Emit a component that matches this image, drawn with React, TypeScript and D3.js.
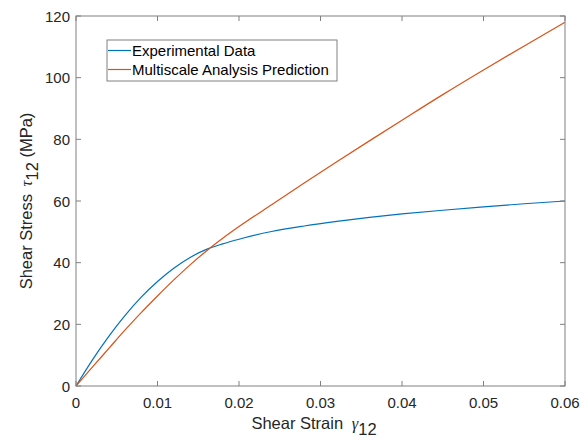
import React, { useEffect, useRef } from 'react';
import * as d3 from 'd3';

// strain values shared by both curves
const strain = [0, 0.002, 0.004, 0.006, 0.008, 0.01, 0.012, 0.014, 0.016, 0.018, 0.02, 0.024, 0.028, 0.032, 0.036, 0.04, 0.045, 0.05, 0.055, 0.06];
const experimental = [0, 8.4, 16, 22.8, 28.8, 33.9, 38.2, 41.7, 44.3, 46.1, 47.6, 50.1, 51.9, 53.4, 54.7, 55.8, 57, 58.1, 59.1, 60];
const prediction = [0, 6.1, 12.1, 18.1, 23.8, 29.2, 34.4, 39.3, 43.8, 47.9, 51.7, 58.8, 65.8, 72.7, 79.5, 86.2, 94.5, 102.5, 110.3, 118];

const xTicks = [0, 0.01, 0.02, 0.03, 0.04, 0.05, 0.06];
const yTicks = [0, 20, 40, 60, 80, 100, 120];
const seriesNames = ['Experimental Data', 'Multiscale Analysis Prediction'];
const seriesColors = ['#0072BD', '#D95319'];

const W = 582;
const H = 444;
const margin = { left: 76, right: 17, top: 16, bottom: 58 };
const FONT = '"Liberation Sans", Arial, Helvetica, sans-serif';
const AXIS = '#808080';
const TEXT = '#262626';

const App: React.FC = () => {
  const svgRef = useRef<SVGSVGElement>(null);

  useEffect(() => {
    if (!svgRef.current) return;
    const svg = d3.select(svgRef.current);
    svg.selectAll('*').remove();

    const x = d3.scaleLinear().domain([0, 0.06]).range([margin.left, W - margin.right]);
    const y = d3.scaleLinear().domain([0, 120]).range([H - margin.bottom, margin.top]);
    const [x0, x1] = x.range();
    const [y0, y1] = y.range();

    svg.append('rect').attr('width', W).attr('height', H).attr('fill', '#fff');

    // curves
    const line = d3.line<[number, number]>()
      .x(d => x(d[0]))
      .y(d => y(d[1]))
      .curve(d3.curveMonotoneX);

    [experimental, prediction].forEach((vals, i) => {
      svg.append('path')
        .datum(strain.map((s, k) => [s, vals[k]] as [number, number]))
        .attr('d', line)
        .attr('fill', 'none')
        .attr('stroke', seriesColors[i])
        .attr('stroke-width', 1.2);
    });

    // box
    svg.append('rect')
      .attr('x', x0).attr('y', y1)
      .attr('width', x1 - x0).attr('height', y0 - y1)
      .attr('fill', 'none')
      .attr('stroke', AXIS)
      .attr('stroke-width', 1);

    const tl = 5;
    // x ticks (bottom and top, inward)
    xTicks.forEach(t => {
      const px = x(t);
      svg.append('line').attr('x1', px).attr('x2', px).attr('y1', y0).attr('y2', y0 - tl).attr('stroke', AXIS);
      svg.append('line').attr('x1', px).attr('x2', px).attr('y1', y1).attr('y2', y1 + tl).attr('stroke', AXIS);
      svg.append('text')
        .attr('x', px).attr('y', y0 + 22)
        .attr('text-anchor', 'middle')
        .attr('fill', TEXT)
        .style('font-family', FONT)
        .style('font-size', '15px')
        .text(d3.format('~g')(t));
    });

    // y ticks (left and right, inward)
    yTicks.forEach(t => {
      const py = y(t);
      svg.append('line').attr('x1', x0).attr('x2', x0 + tl).attr('y1', py).attr('y2', py).attr('stroke', AXIS);
      svg.append('line').attr('x1', x1).attr('x2', x1 - tl).attr('y1', py).attr('y2', py).attr('stroke', AXIS);
      svg.append('text')
        .attr('x', x0 - 6).attr('y', py + 5.5)
        .attr('text-anchor', 'end')
        .attr('fill', TEXT)
        .style('font-family', FONT)
        .style('font-size', '15px')
        .text(String(t));
    });

    // x label
    const xl = svg.append('text')
      .attr('x', 314).attr('y', 429)
      .attr('text-anchor', 'middle')
      .attr('fill', TEXT)
      .style('font-family', FONT)
      .style('font-size', '16.5px');
    xl.append('tspan').text('Shear Strain ');
    xl.append('tspan').style('font-family', '"Liberation Serif", serif').style('font-style', 'italic').attr('dx', 4).text('γ');
    xl.append('tspan').attr('dy', 6).text('12');

    // y label
    const yl = svg.append('text')
      .attr('transform', `translate(32,${(y0 + y1) / 2}) rotate(-90)`)
      .attr('text-anchor', 'middle')
      .attr('fill', TEXT)
      .style('font-family', FONT)
      .style('font-size', '16.5px');
    yl.append('tspan').text('Shear Stress ');
    yl.append('tspan').style('font-family', '"Liberation Serif", serif').style('font-style', 'italic').attr('dx', 3).text('τ');
    yl.append('tspan').attr('dy', 6).text('12');
    yl.append('tspan').attr('dy', -6).text(' (MPa)');

    // legend
    const lg = svg.append('g');
    lg.append('rect')
      .attr('x', 107).attr('y', 40)
      .attr('width', 230).attr('height', 41)
      .attr('fill', '#fff')
      .attr('stroke', AXIS)
      .attr('stroke-width', 1);
    seriesNames.forEach((name, i) => {
      const cy = 50.5 + i * 19;
      lg.append('line')
        .attr('x1', 108).attr('x2', 131)
        .attr('y1', cy).attr('y2', cy)
        .attr('stroke', seriesColors[i])
        .attr('stroke-width', 1.2);
      lg.append('text')
        .attr('x', 132).attr('y', cy + 5.5)
        .attr('fill', '#000')
        .style('font-family', FONT)
        .style('font-size', '15px')
        .text(name);
    });
  }, []);

  return (
    <svg
      ref={svgRef}
      width={W}
      height={H}
      style={{ position: 'absolute', left: 0, top: 0 }}
    />
  );
};

export default App;
